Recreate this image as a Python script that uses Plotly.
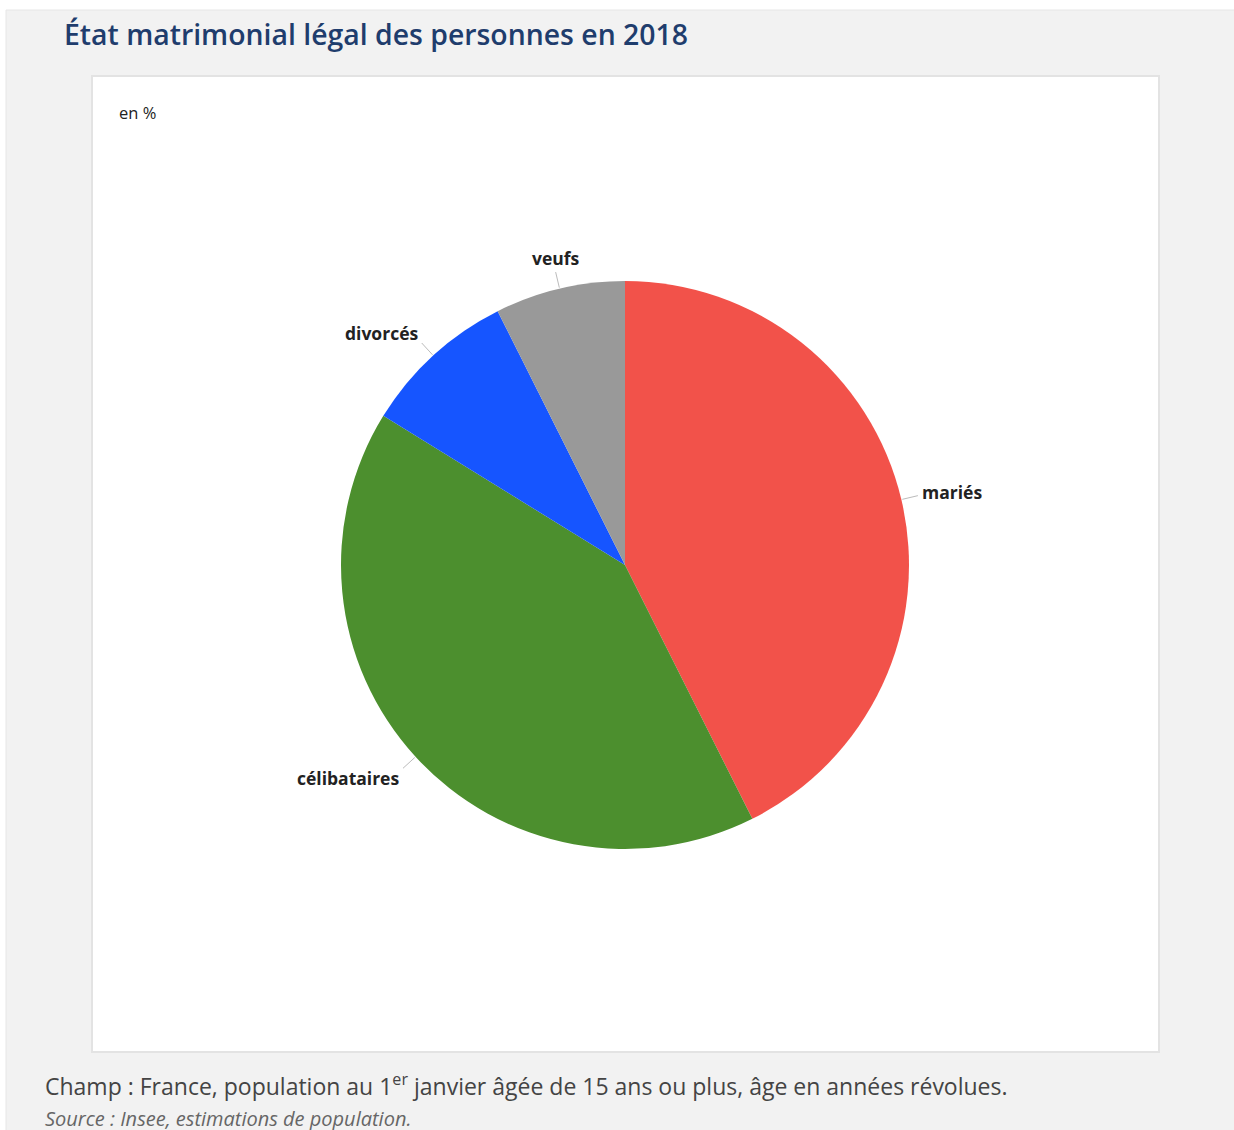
import math
import plotly.graph_objects as go

W, H = 1234, 1130

labels = ["mariés", "célibataires", "divorcés", "veufs"]
values = [42.6, 41.2, 8.8, 7.4]
colors = ["#F2524A", "#4C8F2E", "#1655FF", "#999999"]

title = "État matrimonial légal des personnes en 2018"
unit = "en %"
note = "Champ : France, population au 1<sup>er</sup> janvier âgée de 15 ans ou plus, âge en années révolues."
source = "<i>Source : Insee, estimations de population.</i>"

cx, cy, R = 625, 565, 284


def px(x):
    return x / W


def py(y):
    return 1 - y / H


fig = go.Figure()
fig.add_trace(go.Pie(
    labels=labels, values=values, sort=False, direction="clockwise", rotation=0,
    marker=dict(colors=colors, line=dict(width=0)),
    textinfo="none", hoverinfo="label+percent", showlegend=False,
    domain=dict(x=[px(cx - R), px(cx + R)], y=[py(cy + R), py(cy - R)]),
))

shapes = [
    dict(type="rect", xref="paper", yref="paper", x0=px(6), x1=px(1240), y0=py(1140), y1=py(10),
         fillcolor="#F2F2F2", line=dict(color="#E6E6E6", width=1), layer="below"),
    dict(type="rect", xref="paper", yref="paper", x0=px(92), x1=px(1159), y0=py(1052), y1=py(76),
         fillcolor="#FFFFFF", line=dict(color="#E3E3E3", width=2), layer="below"),
]
annotations = []

total = sum(values)
cum = 0.0
for lab, v in zip(labels, values):
    mid = (cum + v / 2) / total * 2 * math.pi
    cum += v
    s, c = math.sin(mid), math.cos(mid)
    x0, y0 = cx + (R + 1) * s, cy - (R + 1) * c
    x1, y1 = cx + (R + 17) * s, cy - (R + 17) * c
    shapes.append(dict(type="line", xref="paper", yref="paper", x0=px(x0), y0=py(y0), x1=px(x1), y1=py(y1),
                       line=dict(color="#BBBBBB", width=1)))
    if abs(s) < 0.3:
        xa, xs = "center", 0
    elif s > 0:
        xa, xs = "left", 2
    else:
        xa, xs = "right", -2
    annotations.append(dict(
        xref="paper", yref="paper", x=px(x1), y=py(y1), text=f"<b>{lab}</b>", showarrow=False,
        xanchor=xa, yanchor="middle", xshift=xs, yshift=14 * c,
        font=dict(family="Open Sans, DejaVu Sans, sans-serif", size=17.5, color="#222222"),
    ))

annotations += [
    dict(xref="paper", yref="paper", x=px(62), y=py(34), text=title, showarrow=False,
         xanchor="left", yanchor="middle",
         font=dict(family="Open Sans, sans-serif", size=28.4, color="#1F3D6D", weight=600)),
    dict(xref="paper", yref="paper", x=px(117), y=py(113), text=unit, showarrow=False,
         xanchor="left", yanchor="middle",
         font=dict(family="Open Sans, sans-serif", size=16.5, color="#222222")),
    dict(xref="paper", yref="paper", x=px(43), y=py(1085), text=note, showarrow=False,
         xanchor="left", yanchor="middle",
         font=dict(family="Open Sans, sans-serif", size=23, color="#444444")),
    dict(xref="paper", yref="paper", x=px(43), y=py(1118), text=source, showarrow=False,
         xanchor="left", yanchor="middle",
         font=dict(family="Open Sans, sans-serif", size=20, color="#666666")),
]

fig.update_layout(
    width=W, height=H, margin=dict(l=0, r=0, t=0, b=0),
    paper_bgcolor="#FFFFFF", plot_bgcolor="#FFFFFF",
    shapes=shapes, annotations=annotations,
)

fig.write_html(
    "out.html",
    config={"displayModeBar": False},
    post_script="document.body.style.margin='0';document.body.style.overflow='hidden';",
)
